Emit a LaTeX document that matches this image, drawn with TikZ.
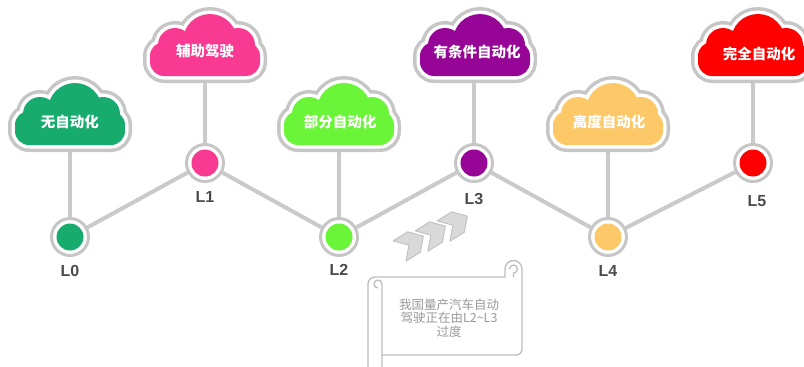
\documentclass[tikz,border=0pt]{standalone}
\usepackage{fontspec}
\setmainfont{Liberation Sans}
\newfontfamily\cjk{Noto Sans CJK SC}
\pgfdeclarelayer{bg}
\pgfsetlayers{bg,main}
\definecolor{ringgray}{HTML}{C6C6C6}
\definecolor{conngray}{HTML}{CACACA}
\definecolor{labgray}{HTML}{4A4A4A}
\definecolor{scrollgray}{HTML}{BDBDBD}
\definecolor{scrolltext}{HTML}{9A9A9A}
\definecolor{chevfill}{HTML}{D9D9D9}
\definecolor{chevline}{HTML}{C2C2C2}
\definecolor{colA}{HTML}{17AB6D}
\definecolor{colB}{HTML}{F83A92}
\definecolor{colC}{HTML}{6AF538}
\definecolor{colD}{HTML}{960596}
\definecolor{colE}{HTML}{FDC968}
\definecolor{colF}{HTML}{FF0000}
\newcommand\cloudlayer[1]{%
  \path[#1,rounded corners=14pt] (-55,-31) rectangle (55,3);
  \path[#1] (-30,0) circle (17pt);
  \path[#1] (5,4) circle (27pt);
  \path[#1] (33,0) circle (17pt);}
\newcommand\mycloud[3]{%
  \begin{scope}[shift={(#1,#2)}]
    \cloudlayer{fill=ringgray,draw=ringgray,line width=14pt}
    \cloudlayer{fill=white,draw=white,line width=7pt}
    \cloudlayer{fill=#3}
  \end{scope}}
\tikzset{
  lvl/.style={circle, draw=ringgray, line width=3pt, fill=white,
    minimum size=37pt, inner sep=0pt,
    path picture={\fill[#1] (path picture bounding box.center) circle (13.5pt);}},
  lab/.style={font=\fontsize{16}{18}\selectfont\bfseries, text=labgray, inner sep=0pt},
  cloudtext/.style={font=\cjk\bfseries\fontsize{14.5}{17}\selectfont, text=white, inner sep=0pt},
  conn/.style={draw=conngray, line width=4pt},
  vconn/.style={draw=conngray, line width=3.5pt},
  scrollline/.style={draw=scrollgray, line width=1.3pt, line join=round},
  chev/.style={fill=chevfill, draw=chevline, line width=1pt, line join=round}
}
\begin{document}
\begin{tikzpicture}[x=1pt,y=1pt]
\useasboundingbox (0,-367) rectangle (804,0);
\clip (0,-367) rectangle (804,0);

% cloud centres
\coordinate (k0) at (70,-114);
\coordinate (k1) at (205,-45);
\coordinate (k2) at (339,-114);
\coordinate (k3) at (474,-45);
\coordinate (k4) at (608,-114);
\coordinate (k5) at (753,-45);

\mycloud{70}{-114}{colA}
\mycloud{205}{-45}{colB}
\mycloud{339}{-114}{colC}
\mycloud{475}{-45}{colD}
\mycloud{608}{-114}{colE}
\mycloud{753}{-45}{colF}

\node[cloudtext] (t0) at (70,-122) {无自动化};
\node[cloudtext] (t1) at (205,-51) {辅助驾驶};
\node[cloudtext] (t2) at (340,-122) {部分自动化};
\node[cloudtext] (t3) at (477,-52) {有条件自动化};
\node[cloudtext] (t4) at (609,-122) {高度自动化};
\node[cloudtext] (t5) at (759,-54) {完全自动化};

% level circles
\node[lvl=colA] (c0) at (70,-237) {};
\node[lvl=colB] (c1) at (205,-163) {};
\node[lvl=colC] (c2) at (339,-237) {};
\node[lvl=colD] (c3) at (474,-163) {};
\node[lvl=colE] (c4) at (608,-237) {};
\node[lvl=colF] (c5) at (753,-163) {};

\node[lab] (l0) at (70,-271) {L0};
\node[lab] (l1) at (205,-197) {L1};
\node[lab] (l2) at (339,-270) {L2};
\node[lab] (l3) at (474,-199) {L3};
\node[lab] (l4) at (608,-271) {L4};
\node[lab] (l5) at (757,-201) {L5};

\begin{pgfonlayer}{bg}
  \draw[conn] (c0) -- (c1) -- (c2) -- (c3) -- (c4) -- (c5);
  \foreach \i in {0,...,5} {\draw[vconn] (k\i) -- (c\i);}
\end{pgfonlayer}

% chevrons
\foreach \cx/\cy in {414/-242, 436/-232, 458/-222} {
  \draw[chev, shift={(\cx,\cy)}, rotate=32]
    (11,0) -- (0,12) -- (-17,12) -- (-6,0) -- (-17,-12) -- (0,-12) -- cycle;
}

% scroll
\draw[scrollline, fill=white]
  (368,-370) -- (368,-284) arc[start angle=180, end angle=90, radius=7pt]
  -- (505,-277) -- (505,-269) arc[start angle=180, end angle=0, radius=8.5pt]
  -- (522,-349) arc[start angle=0, end angle=-90, radius=6pt]
  -- (382,-355) -- (382,-370);
\draw[scrollline] (382,-355) -- (382,-284) arc[start angle=0, end angle=270, radius=4pt];
\draw[scrollline] (509.5,-269) arc[start angle=180, end angle=-90, radius=4pt] -- (513.5,-277);
\node[font=\cjk\fontsize{12.5}{13.6}\selectfont, text=scrolltext, align=center, inner sep=0pt]
  (s) at (449,-318) {我国量产汽车自动\\驾驶正在由L2\textasciitilde L3\\过度};
\end{tikzpicture}
\end{document}
